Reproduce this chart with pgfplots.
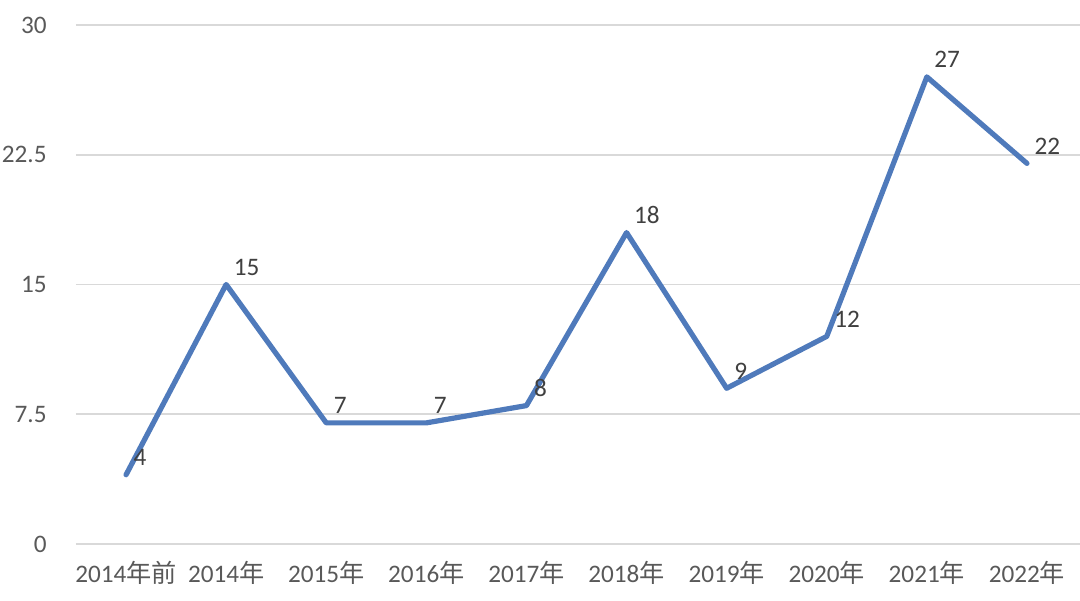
\documentclass[border=0pt]{standalone}
\usepackage{fontspec}
\setmainfont{Carlito}
\newfontfamily\cjk{Noto Sans CJK SC}
\usepackage{pgfplots}
\pgfplotsset{compat=1.18}
\definecolor{lineblue}{RGB}{79,122,187}
\definecolor{gridgray}{RGB}{217,217,217}
\definecolor{ticktext}{RGB}{89,89,89}
\definecolor{labeltext}{RGB}{64,64,64}
\begin{document}
\begin{tikzpicture}
\begin{axis}[
  name=ax,
  scale only axis,
  width=502pt, height=259.5pt,
  xmin=-0.5, xmax=9.53,
  ymin=0, ymax=30,
  axis line style={draw=none},
  major tick length=0pt,
  ytick={0,7.5,15,22.5,30},
  yticklabels={0,7.5,15,22.5,30},
  ymajorgrids,
  grid style={gridgray, line width=0.8pt},
  xtick={0,...,9},
  xticklabels={2014{\cjk 年前},2014{\cjk 年},2015{\cjk 年},2016{\cjk 年},2017{\cjk 年},2018{\cjk 年},2019{\cjk 年},2020{\cjk 年},2021{\cjk 年},2022{\cjk 年}},
  tick label style={font=\fontsize{12.6}{14}\selectfont, text=ticktext},
  yticklabel style={anchor=east, inner sep=0pt, xshift=-14.5pt},
  xticklabel style={anchor=north, inner sep=0pt, yshift=-8.5pt},
  /pgf/number format/assume math mode=true,
  clip=false,
]
\addplot[lineblue, line width=2.6pt, line join=round, line cap=round,
  nodes near coords,
  every node near coord/.append style={anchor=base west, inner sep=0pt, xshift=2.5pt, yshift=4.5pt, font=\fontsize{12.6}{14}\selectfont, text=labeltext},
] coordinates {
 (0,4) (1,15) (2,7) (3,7) (4,8) (5,18) (6,9) (7,12) (8,27) (9,22)
};
\end{axis}
\pgfresetboundingbox
\path[use as bounding box] ([shift={(-38pt,-28.5pt)}]ax.south west) rectangle ([shift={(0pt,12.5pt)}]ax.north east);
\end{tikzpicture}
\end{document}
